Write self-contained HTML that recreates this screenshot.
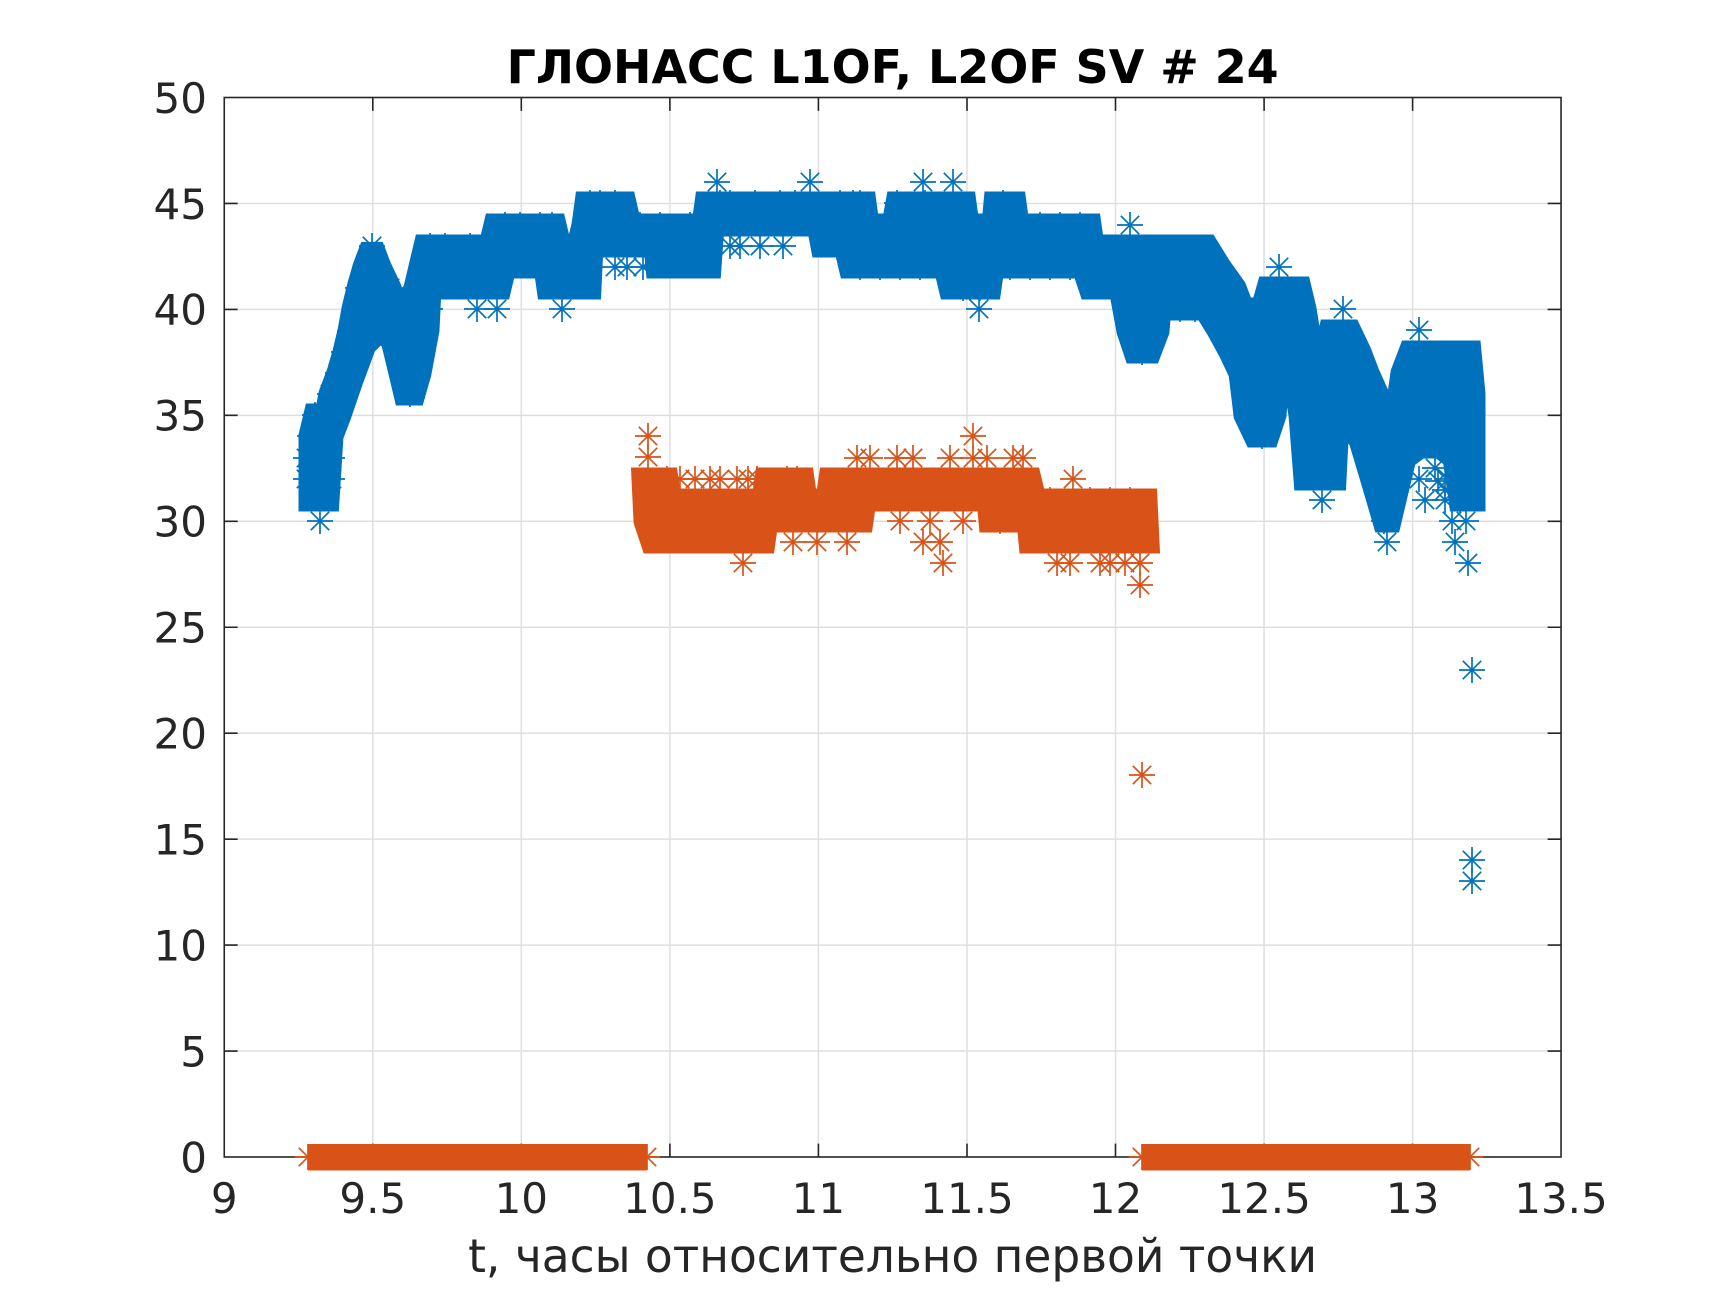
<!DOCTYPE html>
<html><head><meta charset="utf-8"><style>
html,body{margin:0;padding:0;background:#fff;}
svg{display:block;}
text{font-family:"DejaVu Sans","Liberation Sans",sans-serif;}
</style></head><body>
<svg width="1725" height="1300" viewBox="0 0 1725 1300" xmlns="http://www.w3.org/2000/svg" xmlns:xlink="http://www.w3.org/1999/xlink">
<defs><path id="s" d="M-13 0H13M0-13V13M-9.2-9.2L9.2 9.2M-9.2 9.2L9.2-9.2"/></defs>
<rect width="1725" height="1300" fill="#fff"/>
<!-- grid -->
<g stroke="#dfdfdf" stroke-width="1.5">
<line x1="372.8" y1="97.5" x2="372.8" y2="1157"/><line x1="521.3" y1="97.5" x2="521.3" y2="1157"/><line x1="669.9" y1="97.5" x2="669.9" y2="1157"/><line x1="818.4" y1="97.5" x2="818.4" y2="1157"/><line x1="967" y1="97.5" x2="967" y2="1157"/><line x1="1115.5" y1="97.5" x2="1115.5" y2="1157"/><line x1="1264.1" y1="97.5" x2="1264.1" y2="1157"/><line x1="1412.6" y1="97.5" x2="1412.6" y2="1157"/>
<line x1="224.25" y1="1051.05" x2="1561" y2="1051.05"/><line x1="224.25" y1="945.1" x2="1561" y2="945.1"/><line x1="224.25" y1="839.15" x2="1561" y2="839.15"/><line x1="224.25" y1="733.2" x2="1561" y2="733.2"/><line x1="224.25" y1="627.25" x2="1561" y2="627.25"/><line x1="224.25" y1="521.3" x2="1561" y2="521.3"/><line x1="224.25" y1="415.35" x2="1561" y2="415.35"/><line x1="224.25" y1="309.4" x2="1561" y2="309.4"/><line x1="224.25" y1="203.45" x2="1561" y2="203.45"/>
</g>
<!-- axes box and ticks -->
<g stroke="#262626" stroke-width="1.6" fill="none">
<rect x="224.25" y="97.5" width="1336.8" height="1059.5"/>
<path d="M372.8 1157v-13.4M521.3 1157v-13.4M669.9 1157v-13.4M818.4 1157v-13.4M967 1157v-13.4M1115.5 1157v-13.4M1264.1 1157v-13.4M1412.6 1157v-13.4
M372.8 97.5v13.4M521.3 97.5v13.4M669.9 97.5v13.4M818.4 97.5v13.4M967 97.5v13.4M1115.5 97.5v13.4M1264.1 97.5v13.4M1412.6 97.5v13.4
M224.25 1051.05h13.4M224.25 945.1h13.4M224.25 839.15h13.4M224.25 733.2h13.4M224.25 627.25h13.4M224.25 521.3h13.4M224.25 415.35h13.4M224.25 309.4h13.4M224.25 203.45h13.4
M1561 1051.05h-13.4M1561 945.1h-13.4M1561 839.15h-13.4M1561 733.2h-13.4M1561 627.25h-13.4M1561 521.3h-13.4M1561 415.35h-13.4M1561 309.4h-13.4M1561 203.45h-13.4"/>
</g>
<!-- blue series -->
<g fill="#0072BD" stroke="#0072BD">
<polygon stroke-width="23" stroke-linejoin="miter" stroke-miterlimit="2.5" points="310,436 315,415 326,415 330,394 338,373 344,352 349,331 353,309 358,288 364,267 372,246 380,267 390,288 397,309 407,309 415,288 420,267 425,246 490,246 495,225 555,225 560,246 578,246 583,225 586,203 625,203 630,225 703,225 706,203 865,203 868,225 893,225 897,203 965,203 968,225 993,225 995,203 1015,203 1018,225 1090,225 1093,246 1207,246 1220,267 1235,288 1243,309 1262,309 1268,288 1300,288 1305,309 1312,352 1318,394 1325,352 1330,331 1350,331 1360,352 1368,373 1380,400 1390,436 1396,415 1402,373 1410,352 1470,352 1474,394 1474,500 1460,500 1454,458 1440,447 1420,447 1405,458 1395,500 1390,521 1384,521 1372,480 1360,440 1345,420 1338,420 1335,479 1305,479 1300,415 1290,352 1280,352 1275,415 1268,436 1255,436 1245,415 1240,373 1230,352 1218,330 1205,309 1160,309 1158,331 1150,352 1135,352 1128,331 1120,288 1090,288 1083,267 993,267 990,288 950,288 945,267 850,267 845,246 822,246 818,225 713,225 710,267 657,267 655,246 592,246 590,288 548,288 545,267 505,267 500,288 430,288 428,330 420,373 414,394 405,394 400,373 392,340 380,330 365,345 352,380 340,415 332,436 328,500 310,500"/>
</g>
<g stroke="#0072BD" stroke-width="1.7" fill="none">
<use href="#s" x="320" y="521"/><use href="#s" x="310" y="436"/><use href="#s" x="315" y="415"/><use href="#s" x="326" y="415"/><use href="#s" x="306" y="479"/><use href="#s" x="332" y="458"/><use href="#s" x="306" y="458"/><use href="#s" x="332" y="479"/>
<use href="#s" x="372" y="246"/><use href="#s" x="366" y="267"/><use href="#s" x="378" y="267"/><use href="#s" x="410" y="394"/><use href="#s" x="403" y="373"/><use href="#s" x="350" y="331"/>
<use href="#s" x="330" y="394"/><use href="#s" x="338" y="373"/><use href="#s" x="344" y="352"/><use href="#s" x="358" y="288"/><use href="#s" x="390" y="288"/><use href="#s" x="397" y="309"/><use href="#s" x="420" y="352"/><use href="#s" x="425" y="330"/><use href="#s" x="412" y="373"/>
<use href="#s" x="430" y="309"/><use href="#s" x="477" y="309"/><use href="#s" x="497" y="309"/><use href="#s" x="562" y="309"/>
<use href="#s" x="430" y="246"/><use href="#s" x="445" y="246"/><use href="#s" x="470" y="246"/><use href="#s" x="483" y="246"/>
<use href="#s" x="505" y="225"/><use href="#s" x="520" y="225"/><use href="#s" x="540" y="225"/><use href="#s" x="552" y="225"/>
<use href="#s" x="590" y="203"/><use href="#s" x="600" y="203"/><use href="#s" x="615" y="203"/>
<use href="#s" x="615" y="267"/><use href="#s" x="627" y="267"/><use href="#s" x="643" y="267"/>
<use href="#s" x="640" y="225"/><use href="#s" x="660" y="225"/><use href="#s" x="690" y="225"/>
<use href="#s" x="717" y="182"/><use href="#s" x="810" y="182"/><use href="#s" x="730" y="203"/><use href="#s" x="755" y="203"/><use href="#s" x="780" y="203"/><use href="#s" x="720" y="203"/><use href="#s" x="795" y="203"/><use href="#s" x="840" y="203"/><use href="#s" x="860" y="203"/>
<use href="#s" x="730" y="246"/><use href="#s" x="740" y="246"/><use href="#s" x="760" y="246"/><use href="#s" x="783" y="246"/>
<use href="#s" x="923" y="182"/><use href="#s" x="953" y="182"/><use href="#s" x="853" y="203"/><use href="#s" x="897" y="203"/><use href="#s" x="925" y="203"/><use href="#s" x="1003" y="203"/>
<use href="#s" x="875" y="225"/><use href="#s" x="885" y="225"/><use href="#s" x="1025" y="225"/><use href="#s" x="1040" y="225"/><use href="#s" x="1060" y="225"/><use href="#s" x="1080" y="225"/>
<use href="#s" x="860" y="267"/><use href="#s" x="880" y="267"/><use href="#s" x="900" y="267"/><use href="#s" x="920" y="267"/><use href="#s" x="940" y="267"/>
<use href="#s" x="963" y="288"/><use href="#s" x="970" y="288"/><use href="#s" x="980" y="288"/><use href="#s" x="979" y="309"/>
<use href="#s" x="1010" y="267"/><use href="#s" x="1030" y="267"/><use href="#s" x="1050" y="267"/><use href="#s" x="1070" y="267"/>
<use href="#s" x="1100" y="246"/><use href="#s" x="1165" y="309"/><use href="#s" x="1180" y="309"/><use href="#s" x="1195" y="309"/>
<use href="#s" x="1130" y="225"/><use href="#s" x="1142" y="352"/><use href="#s" x="1143" y="331"/><use href="#s" x="1211" y="309"/>
<use href="#s" x="1279" y="267"/><use href="#s" x="1343" y="309"/><use href="#s" x="1419" y="330"/><use href="#s" x="1322" y="500"/><use href="#s" x="1387" y="542"/><use href="#s" x="1384" y="521"/>
<use href="#s" x="1262" y="436"/><use href="#s" x="1250" y="415"/>
<use href="#s" x="1419" y="479"/><use href="#s" x="1425" y="500"/><use href="#s" x="1435" y="468"/><use href="#s" x="1445" y="490"/>
<use href="#s" x="1445" y="500"/><use href="#s" x="1460" y="500"/><use href="#s" x="1452" y="521"/><use href="#s" x="1466" y="521"/><use href="#s" x="1455" y="542"/><use href="#s" x="1468" y="563"/><use href="#s" x="1465" y="479"/><use href="#s" x="1470" y="458"/><use href="#s" x="1472" y="437"/><use href="#s" x="1448" y="479"/><use href="#s" x="1462" y="354"/><use href="#s" x="1438" y="481"/>
<use href="#s" x="1472" y="670"/><use href="#s" x="1472" y="860"/><use href="#s" x="1472" y="881"/>
</g>
<!-- orange series -->
<g fill="#D95319" stroke="#D95319">
<polygon stroke-width="23" stroke-linejoin="miter" stroke-miterlimit="2.5" points="643,479 667,479 670,500 763,500 766,479 803,479 806,500 827,500 830,479 1030,479 1035,500 1146,500 1148,542 1030,542 1028,521 990,521 988,500 865,500 862,521 767,521 764,542 652,542 645,521"/>
<rect x="308" y="1144" width="339" height="26.5" stroke="none"/>
<rect x="1142" y="1144" width="328" height="26.5" stroke="none"/>
</g>
<g stroke="#D95319" stroke-width="1.7" fill="none">
<use href="#s" x="648" y="436"/><use href="#s" x="648" y="457"/><use href="#s" x="667" y="479"/><use href="#s" x="680" y="479"/><use href="#s" x="695" y="479"/><use href="#s" x="710" y="479"/><use href="#s" x="720" y="479"/><use href="#s" x="737" y="479"/><use href="#s" x="748" y="479"/><use href="#s" x="757" y="479"/><use href="#s" x="787" y="479"/><use href="#s" x="797" y="479"/>
<use href="#s" x="857" y="458"/><use href="#s" x="870" y="458"/><use href="#s" x="897" y="458"/><use href="#s" x="913" y="458"/><use href="#s" x="950" y="458"/><use href="#s" x="973" y="436"/><use href="#s" x="973" y="458"/><use href="#s" x="987" y="458"/><use href="#s" x="1013" y="458"/><use href="#s" x="1023" y="458"/>
<use href="#s" x="793" y="542"/><use href="#s" x="817" y="542"/><use href="#s" x="847" y="542"/><use href="#s" x="923" y="542"/><use href="#s" x="940" y="542"/><use href="#s" x="943" y="563"/><use href="#s" x="743" y="563"/>
<use href="#s" x="900" y="521"/><use href="#s" x="930" y="521"/><use href="#s" x="963" y="521"/><use href="#s" x="1000" y="521"/>
<use href="#s" x="1050" y="500"/><use href="#s" x="1073" y="479"/><use href="#s" x="1090" y="500"/><use href="#s" x="1110" y="500"/><use href="#s" x="1130" y="500"/>
<use href="#s" x="1057" y="563"/><use href="#s" x="1070" y="563"/><use href="#s" x="1100" y="563"/><use href="#s" x="1110" y="563"/><use href="#s" x="1125" y="563"/><use href="#s" x="1140" y="563"/><use href="#s" x="1140" y="585"/>
<use href="#s" x="1142" y="775"/>
<use href="#s" x="308" y="1157"/><use href="#s" x="647" y="1157"/><use href="#s" x="1142" y="1157"/><use href="#s" x="1470" y="1157"/>
</g>
<!-- tick labels -->
<g fill="#262626" font-size="42" text-anchor="end">
<text x="207" y="1172.3">0</text><text x="207" y="1066.4">5</text><text x="207" y="960.4">10</text><text x="207" y="854.5">15</text><text x="207" y="748.5">20</text><text x="207" y="642.6">25</text><text x="207" y="536.6">30</text><text x="207" y="430.7">35</text><text x="207" y="324.7">40</text><text x="207" y="218.8">45</text><text x="207" y="112.8">50</text>
</g>
<g fill="#262626" font-size="42" text-anchor="middle">
<text x="224.25" y="1213">9</text><text x="372.8" y="1213">9.5</text><text x="521.3" y="1213">10</text><text x="669.9" y="1213">10.5</text><text x="818.4" y="1213">11</text><text x="967" y="1213">11.5</text><text x="1115.5" y="1213">12</text><text x="1264.1" y="1213">12.5</text><text x="1412.6" y="1213">13</text><text x="1561" y="1213">13.5</text>
</g>
<text x="892.6" y="1272" font-size="46" fill="#262626" text-anchor="middle" textLength="849" lengthAdjust="spacingAndGlyphs">t, часы относительно первой точки</text>
<text x="892.6" y="83" font-size="46" font-weight="bold" fill="#000" text-anchor="middle" textLength="772" lengthAdjust="spacingAndGlyphs">ГЛОНАСС L1OF, L2OF SV # 24</text>
</svg>
</body></html>
